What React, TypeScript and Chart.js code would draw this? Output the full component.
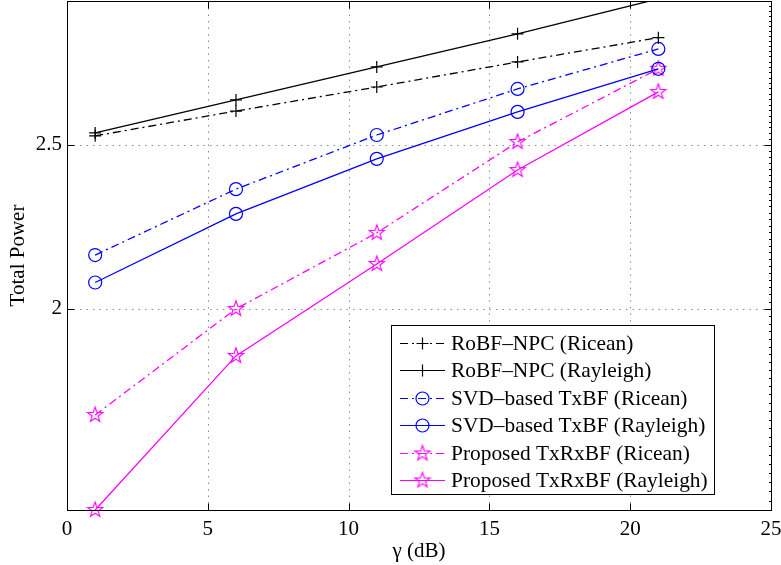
import React, { useEffect, useRef } from 'react';
import { Chart, registerables } from 'chart.js';

Chart.register(...registerables);

// ---------------- data ----------------
const gammaDb = [1, 6, 11, 16, 21];
const robfRicean = [2.531, 2.618, 2.705, 2.799, 2.893];
const robfRayleigh = [2.541, 2.658, 2.78, 2.908, 3.05];
const svdRicean = [2.152, 2.354, 2.534, 2.698, 2.849];
const svdRayleigh = [2.073, 2.276, 2.453, 2.615, 2.773];
const propRicean = [1.731, 2.0, 2.218, 2.51, 2.773];
const propRayleigh = [1.521, 1.876, 2.126, 2.416, 2.687];

const seriesLabels = [
  'RoBF\u2013NPC (Ricean)',
  'RoBF\u2013NPC (Rayleigh)',
  'SVD\u2013based TxBF (Ricean)',
  'SVD\u2013based TxBF (Rayleigh)',
  'Proposed TxRxBF (Ricean)',
  'Proposed TxRxBF (Rayleigh)',
];
const xTicks = [0, 5, 10, 15, 20, 25];
const yTicks = [2, 2.5];
const yMin = 1.521;
const yMax = 3.041;
const xTitle = '\u03b3 (dB)';
const yTitle = 'Total Power';

const FONT = 'Liberation Serif';
const DASHDOT = [8, 4, 2, 4];
const BLACK = '#000000';
const BLUE = '#0000ff';
const MAGENTA = '#ff00ff';

function makeStar(color: string, r: number): HTMLCanvasElement {
  const s = Math.ceil(r * 2 + 4);
  const c = document.createElement('canvas');
  c.width = s;
  c.height = s;
  const ctx = c.getContext('2d')!;
  ctx.strokeStyle = color;
  ctx.lineWidth = 1.1;
  ctx.beginPath();
  for (let i = 0; i < 10; i++) {
    const ang = -Math.PI / 2 + (i * Math.PI) / 5;
    const rr = i % 2 === 0 ? r : r * 0.4;
    const x = s / 2 + rr * Math.cos(ang);
    const y = s / 2 + rr * Math.sin(ang);
    if (i === 0) ctx.moveTo(x, y);
    else ctx.lineTo(x, y);
  }
  ctx.closePath();
  ctx.stroke();
  return c;
}

type SeriesStyle = { color: string; dash: number[]; marker: 'cross' | 'circle' | 'star' };

const styles: SeriesStyle[] = [
  { color: BLACK, dash: DASHDOT, marker: 'cross' },
  { color: BLACK, dash: [], marker: 'cross' },
  { color: BLUE, dash: DASHDOT, marker: 'circle' },
  { color: BLUE, dash: [], marker: 'circle' },
  { color: MAGENTA, dash: DASHDOT, marker: 'star' },
  { color: MAGENTA, dash: [], marker: 'star' },
];
const seriesValues = [robfRicean, robfRayleigh, svdRicean, svdRayleigh, propRicean, propRayleigh];

function drawMarker(ctx: CanvasRenderingContext2D, st: SeriesStyle, x: number, y: number, star: HTMLCanvasElement) {
  ctx.save();
  ctx.setLineDash([]);
  ctx.strokeStyle = st.color;
  ctx.lineWidth = 1.2;
  if (st.marker === 'cross') {
    ctx.beginPath();
    ctx.moveTo(x - 6, y);
    ctx.lineTo(x + 6, y);
    ctx.moveTo(x, y - 6);
    ctx.lineTo(x, y + 6);
    ctx.stroke();
  } else if (st.marker === 'circle') {
    ctx.beginPath();
    ctx.arc(x, y, 6.5, 0, Math.PI * 2);
    ctx.stroke();
  } else {
    ctx.drawImage(star, x - star.width / 2, y - star.height / 2);
  }
  ctx.restore();
}

export default function App() {
  const ref = useRef<HTMLCanvasElement | null>(null);

  useEffect(() => {
    if (!ref.current) return;
    const star = makeStar(MAGENTA, 8);

    const framePlugin = {
      id: 'matlabFrame',
      beforeDatasetsDraw(chart: any) {
        const { ctx, chartArea: a, scales } = chart;
        const xs = scales.x;
        const ys = scales.y;
        ctx.save();
        ctx.strokeStyle = '#8c8c8c';
        ctx.lineWidth = 1;
        ctx.setLineDash([1.5, 5]);
        xTicks.forEach((v) => {
          if (v <= 0 || v >= 25) return;
          const px = Math.round(xs.getPixelForValue(v)) + 0.5;
          ctx.beginPath();
          ctx.moveTo(px, a.bottom);
          ctx.lineTo(px, a.top);
          ctx.stroke();
        });
        yTicks.forEach((v) => {
          const py = Math.round(ys.getPixelForValue(v)) + 0.5;
          ctx.beginPath();
          ctx.moveTo(a.left, py);
          ctx.lineTo(a.right, py);
          ctx.stroke();
        });
        ctx.restore();
      },
      afterDatasetsDraw(chart: any) {
        const { ctx, chartArea: a, scales } = chart;
        const xs = scales.x;
        const ys = scales.y;
        ctx.save();
        ctx.setLineDash([]);
        ctx.strokeStyle = '#000';
        ctx.lineWidth = 1;
        const L = Math.round(a.left) + 0.5;
        const R = Math.round(a.right) + 0.5;
        const T = Math.round(a.top) + 0.5;
        const B = Math.round(a.bottom) + 0.5;
        ctx.strokeRect(L, T, R - L, B - T);
        // major ticks
        ctx.beginPath();
        xTicks.forEach((v) => {
          const px = Math.round(xs.getPixelForValue(v)) + 0.5;
          ctx.moveTo(px, B);
          ctx.lineTo(px, B - 7);
          ctx.moveTo(px, T);
          ctx.lineTo(px, T + 7);
        });
        yTicks.forEach((v) => {
          const py = Math.round(ys.getPixelForValue(v)) + 0.5;
          ctx.moveTo(L, py);
          ctx.lineTo(L + 7, py);
          ctx.moveTo(R, py);
          ctx.lineTo(R - 7, py);
        });
        ctx.stroke();
        // minor ticks on right edge (log axis)
        ctx.beginPath();
        for (let v = 1.54; v < yMax; v += 0.02) {
          const py = Math.round(ys.getPixelForValue(v)) + 0.5;
          ctx.moveTo(R, py);
          ctx.lineTo(R - 2.5, py);
        }
        ctx.stroke();

        // legend
        const bx = 391.5, by = 325.5, bw = 323, bh = 169;
        ctx.fillStyle = '#ffffff';
        ctx.fillRect(bx, by, bw, bh);
        ctx.strokeStyle = '#000';
        ctx.lineWidth = 1;
        ctx.strokeRect(bx, by, bw, bh);
        ctx.font = `21.4px "${FONT}"`;
        ctx.textBaseline = 'middle';
        ctx.textAlign = 'left';
        styles.forEach((st, i) => {
          const y = Math.round(343 + i * 27.4) + 0.5;
          ctx.save();
          ctx.strokeStyle = st.color;
          ctx.lineWidth = 1.2;
          ctx.setLineDash(st.dash);
          ctx.beginPath();
          ctx.moveTo(400, y);
          ctx.lineTo(445, y);
          ctx.stroke();
          ctx.restore();
          drawMarker(ctx, st, 422.5, y, star);
          ctx.fillStyle = '#000';
          ctx.fillText(seriesLabels[i], 451, y + 1);
        });
        ctx.restore();
      },
    };

    const datasets = styles.map((st, i) => ({
      label: seriesLabels[i],
      data: gammaDb.map((x, j) => ({ x, y: seriesValues[i][j] })),
      borderColor: st.color,
      borderWidth: 1.3,
      borderDash: st.dash,
      backgroundColor: 'rgba(0,0,0,0)',
      fill: false,
      tension: 0,
      pointStyle: st.marker === 'star' ? star : st.marker === 'cross' ? 'cross' : 'circle',
      pointRadius: (c: any) => (c.raw && c.raw.y > yMax ? 0 : st.marker === 'cross' ? 6 : 6.5),
      pointBorderColor: st.color,
      pointBackgroundColor: 'rgba(0,0,0,0)',
      pointBorderWidth: 1.2,
      clip: { left: 12, right: 12, top: 0, bottom: 12 },
    }));

    const chart = new Chart(ref.current, {
      type: 'line',
      data: { datasets },
      options: {
        animation: false,
        responsive: false,
        events: [],
        layout: { autoPadding: false, padding: { left: 0, right: 10, top: 1, bottom: 0 } },
        plugins: { legend: { display: false }, tooltip: { enabled: false } },
        scales: {
          x: {
            type: 'linear',
            min: 0,
            max: 25,
            afterBuildTicks: (s: any) => {
              s.ticks = xTicks.map((v) => ({ value: v }));
            },
            afterFit: (s: any) => {
              s.height = 55;
              s.paddingLeft = 0;
              s.paddingRight = 0;
            },
            grid: { display: false, drawTicks: false },
            border: { display: false },
            ticks: {
              color: '#000',
              font: { family: FONT, size: 21 },
              padding: 7,
              maxRotation: 0,
              autoSkip: false,
              callback: (v: any) => String(v),
            },
            title: {
              display: true,
              text: xTitle,
              color: '#000',
              font: { family: FONT, size: 21 },
              padding: { top: 0, bottom: 1 },
            },
          },
          y: {
            type: 'logarithmic',
            min: yMin,
            max: yMax,
            afterBuildTicks: (s: any) => {
              s.ticks = yTicks.map((v) => ({ value: v }));
            },
            afterFit: (s: any) => {
              s.width = 67;
              s.paddingTop = 0;
              s.paddingBottom = 0;
            },
            grid: { display: false, drawTicks: false },
            border: { display: false },
            ticks: {
              color: '#000',
              font: { family: FONT, size: 21 },
              padding: 5,
              autoSkip: false,
              callback: (v: any) => String(v),
            },
            title: {
              display: true,
              text: yTitle,
              color: '#000',
              font: { family: FONT, size: 21 },
              padding: { top: 6, bottom: 0 },
            },
          },
        },
      },
      plugins: [framePlugin],
    } as any);

    return () => chart.destroy();
  }, []);

  return (
    <div style={{ position: 'fixed', left: 0, top: 0, width: 781, height: 565, background: '#fff' }}>
      <canvas ref={ref} width={781} height={565} style={{ display: 'block' }} />
    </div>
  );
}
